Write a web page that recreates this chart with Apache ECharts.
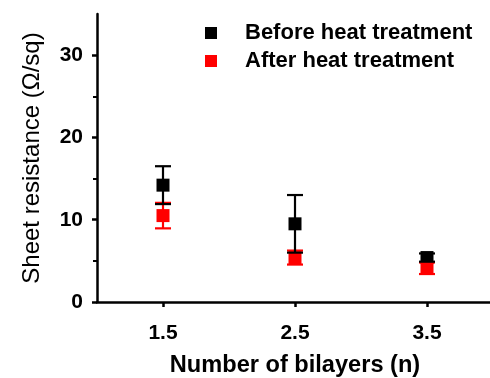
<!DOCTYPE html>
<html>
<head>
<meta charset="utf-8">
<script src="https://cdn.jsdelivr.net/npm/echarts@6/dist/echarts.min.js"></script>
<style>
html, body { margin: 0; padding: 0; background: #fff; }
#chart { width: 490px; height: 378px; }
</style>
</head>
<body>
<div id="chart"></div>
<script>
// bilayer count and sheet resistance values
const bilayers = [1.5, 2.5, 3.5]
const beforeValues = [14.2, 9.5, 5.4]
const beforeErrors = [2.3, 3.5, 0.5]
const afterValues = [10.5, 5.4, 4.1]
const afterErrors = [1.55, 0.85, 0.7]
const yTicks = [0, 10, 20, 30]

const font = 'Liberation Sans, Arial, sans-serif'

function points(vals) {
    return bilayers.map((x, i) => [x, vals[i]])
}
function errData(vals, errs) {
    return bilayers.map((x, i) => [x, vals[i] - errs[i], vals[i] + errs[i]])
}
function errSeries(name, vals, errs, color, z) {
    return {
        name: name,
        type: 'custom',
        z: z,
        data: errData(vals, errs),
        renderItem: (params, api) => {
            const lo = api.coord([api.value(0), api.value(1)])
            const hi = api.coord([api.value(0), api.value(2)])
            const w = 8
            const style = { stroke: color, lineWidth: 2.2 }
            return {
                type: 'group',
                children: [
                    { type: 'line', shape: { x1: hi[0], y1: hi[1], x2: lo[0], y2: lo[1] }, style: style },
                    { type: 'line', shape: { x1: hi[0] - w, y1: hi[1], x2: hi[0] + w, y2: hi[1] }, style: style },
                    { type: 'line', shape: { x1: lo[0] - w, y1: lo[1], x2: lo[0] + w, y2: lo[1] }, style: style }
                ]
            }
        }
    }
}

const chart = echarts.init(document.getElementById('chart'))
chart.setOption({
    animation: false,
    grid: { left: 97, right: -3, top: 14, bottom: 76, outerBoundsMode: 'none' },
    legend: {
        orient: 'vertical',
        left: 200,
        top: 17,
        itemGap: 6,
        icon: 'rect',
        itemWidth: 12,
        itemHeight: 12,
        data: ['Before heat treatment', 'After heat treatment'],
        textStyle: { fontFamily: font, fontWeight: 'bold', fontSize: 22, color: '#000', padding: [0, 0, 0, 23] }
    },
    xAxis: {
        type: 'value',
        min: 1,
        max: 4,
        name: 'Number of bilayers (n)',
        nameLocation: 'middle',
        nameGap: 51,
        nameTextStyle: { fontFamily: font, fontWeight: 'bold', fontSize: 23.6, color: '#000' },
        splitLine: { show: false },
        axisLine: { lineStyle: { color: '#000', width: 2.5 } },
        axisTick: { customValues: bilayers, length: 5, lineStyle: { color: '#000', width: 2.5 } },
        axisLabel: {
            customValues: bilayers,
            margin: 21,
            fontFamily: font, fontWeight: 'bold', fontSize: 21, color: '#000',
            formatter: v => v.toFixed(1)
        }
    },
    yAxis: {
        type: 'value',
        min: 0,
        max: 35,
        interval: 10,
        name: 'Sheet resistance (\u03A9/sq)',
        nameLocation: 'middle',
        nameGap: 53,
        nameTextStyle: { fontFamily: font, fontSize: 24, color: '#000' },
        splitLine: { show: false },
        axisLine: { show: true, lineStyle: { color: '#000', width: 2.5 } },
        axisTick: { show: true, customValues: yTicks, length: 5, lineStyle: { color: '#000', width: 2.5 } },
        minorTick: { show: true, splitNumber: 2, length: 4, lineStyle: { color: '#000', width: 2 } },
        axisLabel: {
            customValues: yTicks,
            margin: 14,
            fontFamily: font, fontWeight: 'bold', fontSize: 21, color: '#000'
        }
    },
    series: [
        {
            name: 'Before heat treatment',
            type: 'scatter',
            symbol: 'rect',
            symbolSize: 13,
            z: 2,
            itemStyle: { color: '#000', opacity: 1 },
            data: points(beforeValues)
        },
        {
            name: 'After heat treatment',
            type: 'scatter',
            symbol: 'rect',
            symbolSize: 13,
            z: 3,
            itemStyle: { color: '#ff0000', opacity: 1 },
            data: points(afterValues)
        },
        errSeries('after-err', afterValues, afterErrors, '#ff0000', 4),
        errSeries('before-err', beforeValues, beforeErrors, '#000', 5)
    ]
})
</script>
</body>
</html>
